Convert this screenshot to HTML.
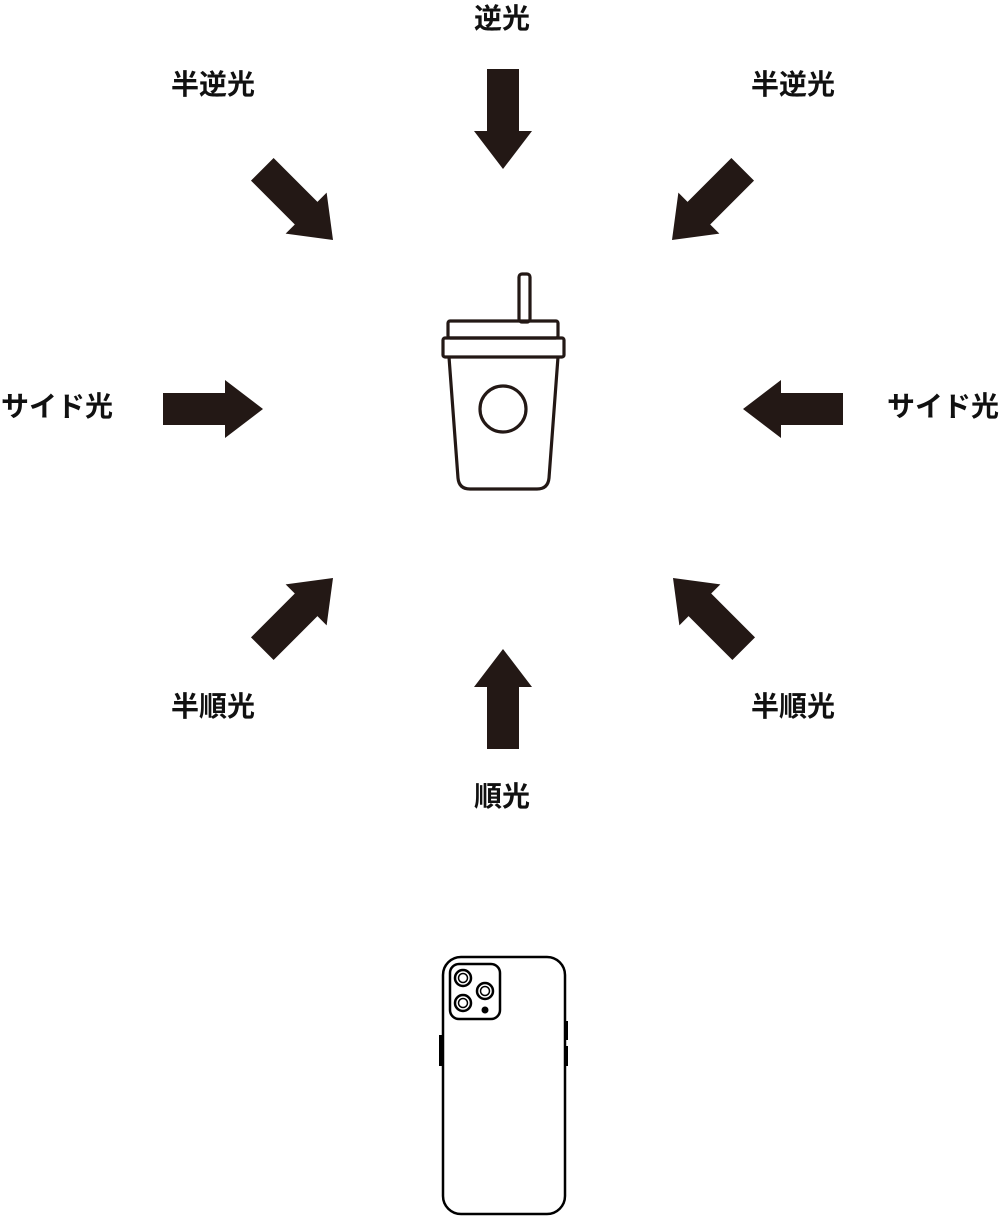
<!DOCTYPE html>
<html><head><meta charset="utf-8"><style>
html,body{margin:0;padding:0;background:#fff;}
svg{display:block;}
text{font-family:"Liberation Sans","Noto Sans CJK JP",sans-serif;font-weight:bold;font-size:28px;fill:#111;}
</style></head><body>
<svg width="1000" height="1216" viewBox="0 0 1000 1216" xmlns="http://www.w3.org/2000/svg">
<defs>
<path id="ar" d="M-100,-16 L-38,-16 L-38,-29 L0,0 L-38,29 L-38,16 L-100,16 Z" fill="#231815"/>
</defs>
<use href="#ar" transform="translate(503,169) rotate(90)"/>
<use href="#ar" transform="translate(503,649) rotate(-90)"/>
<use href="#ar" transform="translate(263,409)"/>
<use href="#ar" transform="translate(743,409) rotate(180)"/>
<use href="#ar" transform="translate(333,240) rotate(45)"/>
<use href="#ar" transform="translate(672,240) rotate(135)"/>
<use href="#ar" transform="translate(333,578) rotate(-45)"/>
<use href="#ar" transform="translate(673,578) rotate(-135)"/>

<g text-anchor="middle">
<text x="502" y="28">逆光</text>
<text x="213" y="94">半逆光</text>
<text x="793" y="94">半逆光</text>
<text x="57" y="416">サイド光</text>
<text x="943" y="416">サイド光</text>
<text x="213" y="716">半順光</text>
<text x="793" y="716">半順光</text>
<text x="502" y="806">順光</text>
</g>

<g fill="none" stroke="#231815" stroke-width="3.2" stroke-linejoin="round">
<rect x="519" y="274" width="11" height="48" rx="3"/>
<rect x="448" y="321" width="110" height="17" rx="2"/>
<rect x="443" y="338" width="121" height="19" rx="2"/>
<path d="M449,357 L458,478 Q459,489 470,489 L537,489 Q548,489 549,478 L558,357"/>
<circle cx="503" cy="409" r="23"/>
</g>

<g fill="none" stroke="#000" stroke-width="2.5">
<rect x="443" y="957" width="122" height="257" rx="18"/>
<rect x="450" y="964" width="50" height="55" rx="9"/>
<circle cx="463" cy="978" r="8"/>
<circle cx="463" cy="978" r="4.5" stroke-width="1.5"/>
<circle cx="463" cy="1003" r="8"/>
<circle cx="463" cy="1003" r="4.5" stroke-width="1.5"/>
<circle cx="485" cy="991" r="8"/>
<circle cx="485" cy="991" r="4.5" stroke-width="1.5"/>
</g>
<circle cx="485" cy="1010" r="3.5" fill="#000"/>
<rect x="439" y="1035" width="3" height="31" fill="#000"/>
<rect x="565" y="1021" width="3" height="19" fill="#000"/>
<rect x="565" y="1046" width="3" height="20" fill="#000"/>
</svg>
</body></html>
